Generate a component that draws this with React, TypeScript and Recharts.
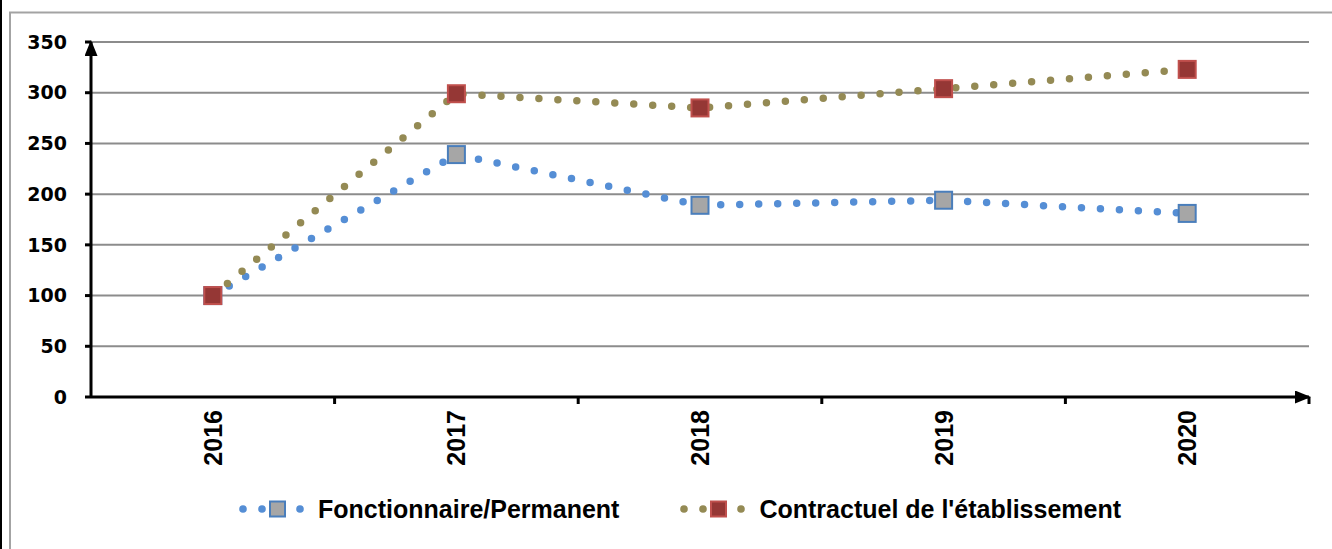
import React from "react";
import { LineChart, Line, XAxis, YAxis, CartesianGrid, Legend, Customized } from "recharts";

// values
const years = ["2016", "2017", "2018", "2019", "2020"];
const fonctionnaire = [100, 239, 189, 194, 181];
const contractuel = [100, 299, 285, 304, 323];
const yTicks = [0, 50, 100, 150, 200, 250, 300, 350];

const seriesNames = ["Fonctionnaire/Permanent", "Contractuel de l'établissement"];

const data = years.map((year, i) => ({
  year,
  fonctionnaire: fonctionnaire[i],
  contractuel: contractuel[i],
}));

const FONT = "'Liberation Sans', Arial, sans-serif";
const Y_FONT = "'DejaVu Sans', sans-serif";

const BLUE_LINE = "#558ed5";
const BLUE_EDGE = "#4a7ebb";
const GRAY_FILL = "#a6a6a6";
const OLIVE_LINE = "#948a54";
const RED_FILL = "#953735";
const RED_EDGE = "#c0504d";

const squareDot = (fill: string, stroke: string) => (props: any) => {
  const { cx, cy, index } = props;
  if (cx == null || cy == null) return <g key={index} />;
  return (
    <rect
      key={index}
      x={cx - 8.5}
      y={cy - 8.5}
      width={17}
      height={17}
      fill={fill}
      stroke={stroke}
      strokeWidth={2}
    />
  );
};

const XTick = (props: any) => {
  const { x, y, payload, index, visibleTicksCount } = props;
  const half = payload?.offset ?? 0;
  const last = index === visibleTicksCount - 1;
  return (
    <g>
      {index > 0 && <line x1={x - half} y1={y} x2={x - half} y2={y + 7} stroke="#000" strokeWidth={3} />}
      {last && <line x1={x + half} y1={y} x2={x + half} y2={y + 7} stroke="#000" strokeWidth={3} />}
      <text
        transform={`translate(${x},${y + 13}) rotate(-90)`}
        textAnchor="end"
        dy="0.36em"
        fontFamily={FONT}
        fontWeight={700}
        fontSize={25}
        fill="#000"
      >
        {payload.value}
      </text>
    </g>
  );
};

const LegendIcon = ({ line, fill, edge }: { line: string; fill: string; edge: string }) => (
  <svg width={68} height={20}>
    <circle cx={5} cy={10} r={3.8} fill={line} />
    <circle cx={24} cy={10} r={3.8} fill={line} />
    <rect x={32} y={2.5} width={15} height={15} fill={fill} stroke={edge} strokeWidth={2} />
    <circle cx={62} cy={10} r={3.8} fill={line} />
  </svg>
);

const renderLegend = () => (
  <div
    style={{
      display: "flex",
      alignItems: "center",
      height: 30,
      fontFamily: FONT,
      fontWeight: 700,
      fontSize: 25,
      color: "#000",
    }}
  >
    <LegendIcon line={BLUE_LINE} fill={GRAY_FILL} edge={BLUE_EDGE} />
    <span style={{ marginLeft: 12 }}>{seriesNames[0]}</span>
    <span style={{ width: 60 }} />
    <LegendIcon line={OLIVE_LINE} fill={RED_FILL} edge={RED_EDGE} />
    <span style={{ marginLeft: 12 }}>{seriesNames[1]}</span>
  </div>
);

const Frame = () => (
  <g>
    <defs>
      <marker
        id="axisArrow"
        viewBox="0 0 16 13"
        refX={14}
        refY={6.5}
        markerWidth={16}
        markerHeight={13}
        markerUnits="userSpaceOnUse"
        orient="auto-start-reverse"
      >
        <path d="M0,0 L16,6.5 L0,13 z" fill="#000" />
      </marker>
    </defs>
    <rect x={0} y={0} width={2} height={549} fill="#000" />
    <rect x={10} y={12.5} width={1400} height={600} fill="none" stroke="#a3a3a3" strokeWidth={2} />
  </g>
);

export default function App() {
  return (
    <div style={{ position: "absolute", left: 0, top: 0, width: 1332, height: 549, background: "#fff" }}>
      <LineChart
        width={1332}
        height={549}
        data={data}
        margin={{ top: 42, right: 23, left: 11, bottom: 25 }}
      >
        <Customized component={Frame} />
        <CartesianGrid vertical={false} stroke="#8c8c8c" strokeWidth={2} />
        <XAxis
          dataKey="year"
          scale="band"
          height={97}
          tickSize={0}
          tickMargin={0}
          tickLine={false}
          axisLine={{ stroke: "#000", strokeWidth: 3, markerEnd: "url(#axisArrow)" }}
          tick={<XTick />}
          interval={0}
        />
        <YAxis
          width={80}
          domain={[0, 350]}
          ticks={yTicks}
          interval={0}
          tickSize={6}
          tickMargin={18}
          tickLine={{ stroke: "#000", strokeWidth: 3 }}
          axisLine={{ stroke: "#000", strokeWidth: 3, markerStart: "url(#axisArrow)" }}
          tick={{ fontFamily: Y_FONT, fontWeight: 700, fontSize: 19, fill: "#000" }}
        />
        <Legend
          verticalAlign="bottom"
          content={renderLegend}
          wrapperStyle={{ left: 238, top: 494, width: "auto" }}
        />
        <Line
          type="linear"
          dataKey="fonctionnaire"
          name={seriesNames[0]}
          stroke={BLUE_LINE}
          strokeWidth={7.5}
          strokeLinecap="round"
          strokeDasharray="0 19"
          dot={squareDot(GRAY_FILL, BLUE_EDGE)}
          activeDot={false}
          isAnimationActive={false}
        />
        <Line
          type="linear"
          dataKey="contractuel"
          name={seriesNames[1]}
          stroke={OLIVE_LINE}
          strokeWidth={7.5}
          strokeLinecap="round"
          strokeDasharray="0 19"
          dot={squareDot(RED_FILL, RED_EDGE)}
          activeDot={false}
          isAnimationActive={false}
        />
      </LineChart>
    </div>
  );
}
